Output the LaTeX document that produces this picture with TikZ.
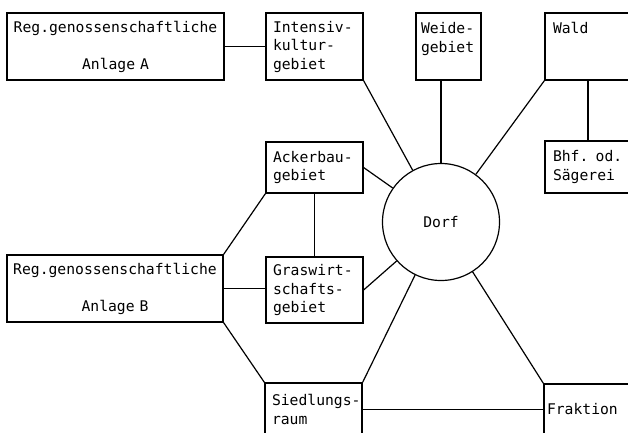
\documentclass[tikz,border=0pt]{standalone}
\usepackage{fontspec}
\setmonofont{DejaVu Sans Mono}
\begin{document}
\begin{tikzpicture}[x=1pt,y=-1pt,line width=1.2pt,
  box/.style={draw,rectangle,align=left,inner xsep=7pt,inner ysep=0pt,font=\ttfamily\fontsize{14.7}{18.5}\selectfont},
  ring/.style={draw,circle,minimum size=117pt,inner sep=0pt,font=\ttfamily\fontsize{14.7}{18.5}\selectfont}]
\useasboundingbox (0,0) rectangle (628,432);
\clip (0,0) rectangle (628,432);
\node[box,align=center,inner xsep=6pt,text width=205pt,minimum height=67pt] (anlA) at (115.5,46.5) {Reg.genossenschaftliche\\\mbox{}\\Anlage A};
\node[box,text width=83pt,minimum height=67pt] (intens) at (314.5,46.5) {Intensiv-\\kultur-\\gebiet};
\node[box,inner xsep=5pt,text width=55pt,minimum height=67pt] (weide) at (448.5,46.5) {Weide-\\gebiet\\\mbox{}};
\node[box,inner xsep=8pt,text width=70pt,minimum height=67pt] (wald) at (588,46.5) {Wald\\\mbox{}\\\mbox{}};
\node[box,inner xsep=8pt,text width=70pt,minimum height=52pt] (bhf) at (588,167) {Bhf. od.\\Sägerei};
\node[box,text width=83pt,minimum height=51pt] (acker) at (314.5,167.5) {Ackerbau-\\gebiet};
\node[ring] (dorf) at (441,222) {Dorf};
\node[box,align=center,inner xsep=6pt,text width=204pt,minimum height=67pt] (anlB) at (115,288.5) {Reg.genossenschaftliche\\\mbox{}\\Anlage B};
\node[box,text width=83pt,minimum height=66pt] (gras) at (314.5,290) {Graswirt-\\schafts-\\gebiet};
\node[box,text width=83pt,minimum height=53pt] (sied) at (313.5,409.5) {Siedlungs-\\raum};
\node[box,inner xsep=3pt,text width=86pt,minimum height=51pt] (frak) at (590,409.5) {Fraktion};
\draw (anlA.east) -- (intens.west);
\draw (intens.south east) -- (dorf);
\draw (dorf.north) -- (dorf.north |- weide.south);
\draw (wald.south west) -- (dorf);
\draw (wald.south) -- (bhf.north);
\draw (acker.east) -- (dorf);
\draw (acker.south) -- (gras.north);
\draw (acker.south west) -- (anlB.north east);
\draw (anlB.east) -- (anlB.east -| gras.west);
\draw (gras.east) -- (dorf);
\draw (anlB.south east) -- (sied.north west);
\draw (sied.north east) -- (dorf);
\draw (sied.east) -- (frak.west);
\draw (dorf) -- (frak.north west);
\end{tikzpicture}
\end{document}
